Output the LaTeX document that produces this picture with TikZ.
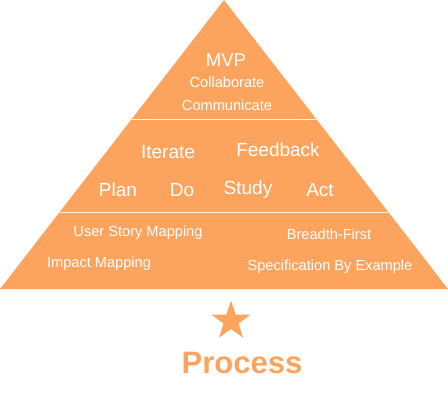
\documentclass[tikz,border=0pt]{standalone}
\usepackage{fontspec}
\setmainfont{Liberation Sans}
\usetikzlibrary{shapes.geometric}
\definecolor{pyramid}{RGB}{252,164,93}
\tikzset{
  lbl/.style={text=white,inner sep=0pt,font=\fontsize{#1}{#1}\selectfont},
  lbl/.default=14.6
}
\begin{document}
\begin{tikzpicture}[x=1pt,y=-1pt]
    \useasboundingbox (0,0) rectangle (448,400);
    \fill[pyramid] (224,0) coordinate (apex) -- (448,289) coordinate (br) -- (0,289) coordinate (bl) -- cycle;
    \coordinate (t1l) at (132,119.5); \coordinate (t1r) at (316,119.5);
    \coordinate (t2l) at (60,212.5); \coordinate (t2r) at (388,212.5);
    \draw[white!85!pyramid,line width=1pt] (t1l) -- (t1r);
    \draw[white!85!pyramid,line width=1pt] (t2l) -- (t2r);
    % top tier
    \node[lbl=18.5] (mvp) at (226,60) {MVP};
    \node[lbl] (collab) at (227,82) {Collaborate};
    \node[lbl] (comm) at (227,105) {Communicate};
    % middle tier
    \node[lbl=19] (iter) at (168,152) {Iterate};
    \node[lbl=19] (feed) at (278,150) {Feedback};
    \foreach \name/\x/\txt in {plan/118/Plan,do/182/Do,study/248/Study,act/320/Act}
      \node[lbl=19] (\name) at (\x,190) {\txt};
    % bottom tier
    \node[lbl] (usm) at (138,233) {User Story Mapping};
    \node[lbl] (bf) at (329,234) {Breadth-First};
    \node[lbl] (imp) at (99,264) {Impact Mapping};
    \node[lbl] (sbe) at (330,267) {Specification By Example};
    % star and title
    \node[star,star points=5,star point ratio=2.6,fill=pyramid,minimum size=41pt,inner sep=0pt] (star) at (231,321) {};
    \node[text=pyramid,font=\fontsize{31}{31}\selectfont\bfseries] (title) at (242,363) {Process};
  \end{tikzpicture}
\end{document}
